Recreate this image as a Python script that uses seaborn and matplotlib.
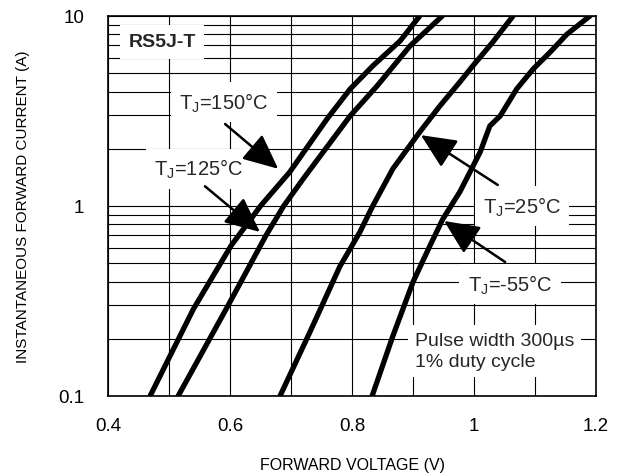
import numpy as np
import pandas as pd
import matplotlib
matplotlib.use("Agg")
import matplotlib.pyplot as plt
from matplotlib.ticker import MultipleLocator, LogLocator, FixedLocator, FixedFormatter, NullFormatter
import seaborn as sns

# ---- data ----
v_150 = [0.469, 0.540, 0.602, 0.650, 0.698, 0.759, 0.797, 0.834, 0.879, 0.911]
i_150 = [0.1, 0.287, 0.62, 1.0, 1.51, 2.87, 4.13, 5.46, 7.4, 10]

v_125 = [0.515, 0.597, 0.659, 0.688, 0.720, 0.797, 0.841, 0.895, 0.948]
i_125 = [0.1, 0.30, 0.70, 1.0, 1.39, 2.98, 4.28, 6.95, 10]

v_25 = [0.682, 0.731, 0.780, 0.813, 0.834, 0.867, 0.911, 0.944, 0.977, 0.998, 1.031, 1.064]
i_25 = [0.1, 0.217, 0.48, 0.73, 1.0, 1.57, 2.45, 3.36, 4.5, 5.46, 7.3, 10]

v_m55 = [0.833, 0.867, 0.900, 0.928, 0.949, 0.977, 1.010, 1.026, 1.043, 1.070, 1.097, 1.125, 1.152, 1.19]
i_m55 = [0.1, 0.207, 0.398, 0.62, 0.855, 1.19, 1.92, 2.64, 2.98, 4.13, 5.26, 6.46, 8.0, 10]

series_names = ["150", "125", "25", "-55"]
x_ticks = [0.4, 0.6, 0.8, 1.0, 1.2]
x_tick_labels = ["0.4", "0.6", "0.8", "1", "1.2"]
y_ticks = [0.1, 1, 10]
y_tick_labels = ["0.1", "1", "10"]

frames = []
for name, v, i in zip(series_names, [v_150, v_125, v_25, v_m55], [i_150, i_125, i_25, i_m55]):
    frames.append(pd.DataFrame({"V": v, "I": i, "T": name}))
df = pd.concat(frames, ignore_index=True)

# ---- style ----
sns.set_theme(style="white")
plt.rcParams["font.family"] = ["Liberation Sans", "DejaVu Sans"]
plt.rcParams["mathtext.fontset"] = "custom"
plt.rcParams["mathtext.rm"] = "Liberation Sans"

fig = plt.figure(figsize=(6.19, 4.77), dpi=100)
ax = fig.add_axes([108 / 619, 1 - 397 / 477, (596 - 108) / 619, (397 - 17) / 477])

sns.lineplot(data=df, x="V", y="I", hue="T", units="T", estimator=None, sort=False,
             palette={n: "black" for n in series_names}, linewidth=3.8,
             legend=False, ax=ax, zorder=4)

ax.set_yscale("log")
ax.set_xlim(0.4, 1.2)
ax.set_ylim(0.1, 10)

ax.xaxis.set_major_locator(FixedLocator(x_ticks))
ax.xaxis.set_major_formatter(FixedFormatter(x_tick_labels))
ax.xaxis.set_minor_locator(MultipleLocator(0.1))
ax.yaxis.set_major_locator(FixedLocator(y_ticks))
ax.yaxis.set_major_formatter(FixedFormatter(y_tick_labels))
ax.yaxis.set_minor_locator(LogLocator(base=10, subs=np.arange(2, 10)))
ax.yaxis.set_minor_formatter(NullFormatter())

ax.grid(True, which="both", color="black", linewidth=0.8, zorder=0)
ax.set_axisbelow(True)
for s in ax.spines.values():
    s.set_color("black")
    s.set_linewidth(1.2)
    s.set_zorder(5)

ax.tick_params(which="both", length=0)
ax.tick_params(axis="x", labelsize=13.5, pad=15, colors="black")
ax.tick_params(axis="y", labelsize=13.5, pad=17, colors="black")

ax.set_xlabel("FORWARD VOLTAGE (V)", fontsize=11.5, labelpad=17, color="black")
ax.set_ylabel("INSTANTANEOUS FORWARD CURRENT (A)", fontsize=11, labelpad=20, color="black")

box = dict(facecolor="white", edgecolor="none", pad=6)

ax.text(0.434, 7.3, "RS5J-T", fontsize=14, fontweight="bold", ha="left", va="center",
        bbox=dict(facecolor="white", edgecolor="none", pad=6), zorder=3)
ax.text(0.590, 3.53, r"T$_\mathregular{J}$=150°C", fontsize=14.5, ha="center", va="center",
        bbox=box, zorder=3)
ax.text(0.549, 1.57, r"T$_\mathregular{J}$=125°C", fontsize=14.5, ha="center", va="center",
        bbox=box, zorder=3)
ax.text(1.079, 1.0, r"T$_\mathregular{J}$=25°C", fontsize=14.5, ha="center", va="center",
        bbox=box, zorder=3)
ax.text(1.059, 0.389, r"T$_\mathregular{J}$=-55°C", fontsize=14.5, ha="center", va="center",
        bbox=box, zorder=3)
ax.text(0.903, 0.1726, "Pulse width 300µs\n1% duty cycle", fontsize=14, ha="left", va="center",
        linespacing=1.3, bbox=dict(facecolor="white", edgecolor="none", pad=5), zorder=3)

arrow = dict(arrowstyle="-|>,head_length=1.2,head_width=0.55", mutation_scale=18,
             lw=1.8, color="black", shrinkA=0, shrinkB=0)
ax.annotate("", xy=(0.679, 1.57), xytext=(0.592, 2.70), arrowprops=arrow, zorder=6)
ax.annotate("", xy=(0.649, 0.73), xytext=(0.559, 1.27), arrowprops=arrow, zorder=6)
ax.annotate("", xy=(0.913, 2.36), xytext=(1.039, 1.29), arrowprops=arrow, zorder=6)
ax.annotate("", xy=(0.951, 0.834), xytext=(1.051, 0.507), arrowprops=arrow, zorder=6)

fig.savefig("out.png", dpi=100, facecolor="white")
